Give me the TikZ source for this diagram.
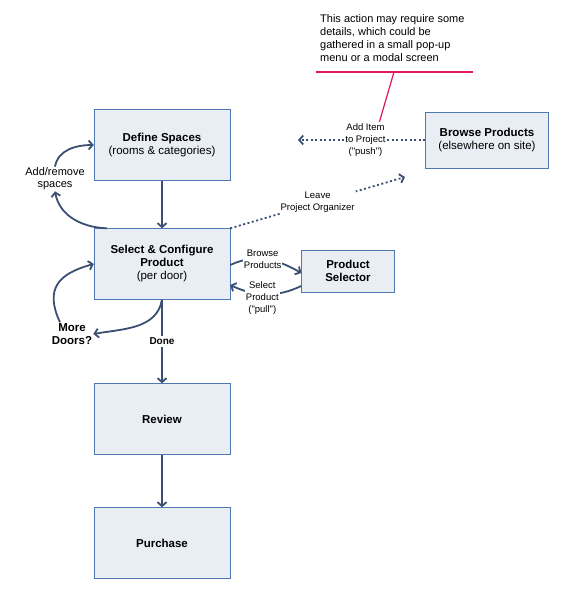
\documentclass[tikz,border=0pt]{standalone}
\usepackage{fontspec}
\setmainfont{Liberation Sans}
\usetikzlibrary{arrows.meta}

\definecolor{boxfill}{HTML}{E9EEF5}
\definecolor{boxline}{HTML}{5079B3}
\definecolor{flowcol}{HTML}{3A4F72}
\definecolor{notered}{HTML}{E0195A}

\begin{document}
\begin{tikzpicture}
[
x=1pt, y=-1pt,
Step/.style={rectangle, draw=boxline, fill=boxfill, thin, minimum width=136pt, minimum height=71pt, align=center, font=\fontsize{11.5}{13}\selectfont},
SmallStep/.style={Step, minimum width=123pt, minimum height=56pt},
TinyStep/.style={Step, minimum width=93pt, minimum height=42pt},
Flow/.style={-{Straight Barb[length=4pt,width=9pt]}, line width=1.8pt, draw=flowcol},
DotFlow/.style={Flow, dash pattern=on 2pt off 2.5pt},
Label/.style={align=center, fill=white, inner sep=1pt, font=\fontsize{9.5}{12}\selectfont},
BoldLabel/.style={Label, font=\fontsize{11.5}{13}\selectfont\bfseries},
Note/.style={align=left, font=\fontsize{11}{13}\selectfont, inner sep=0pt},
NoteLine/.style={draw=notered, line width=1.2pt},
]

\useasboundingbox (0,0) rectangle (577,606);

% main column
\node[Step] (define) at (162,145) {\textbf{Define Spaces}\\(rooms \& categories)};
\node[Step] (select) at (162,264) {\textbf{Select \& Configure}\\\textbf{Product}\\(per door)};
\node[Step] (review) at (162,419) {\textbf{Review}};
\node[Step] (purchase) at (162,543) {\textbf{Purchase}};

% side boxes
\node[SmallStep] (browse) at (487,140) {\textbf{Browse Products}\\(elsewhere on site)};
\node[TinyStep] (selector) at (348,271) {\textbf{Product}\\\textbf{Selector}};

% loop labels
\node[Label, fill=none, font=\fontsize{11}{12}\selectfont] (addremove) at (55,179) {Add/remove\\spaces};
\node[BoldLabel, fill=none] (moredoors) at (72,334) {More\\Doors?};

\draw[Flow] (define) -- (select);
\draw[Flow] (select) -- node[BoldLabel, font=\fontsize{10}{12}\selectfont\bfseries, inner sep=2pt] {Done} (review);
\draw[Flow] (review) -- (purchase);

\draw[Flow] ([xshift=13pt]select.north west) to[out=178,in=-80] (addremove.south);
\draw[Flow] (addremove.north) to[out=80,in=180] (define.west);

\draw[Flow] (select.south) to[out=-100,in=10] (moredoors.east);
\draw[Flow] ([xshift=-12pt]moredoors.north) to[out=115,in=195,looseness=1.4] (select.west);

\draw[Flow] ([yshift=-1pt]select.east) to[out=25,in=150]
  node[Label, pos=0.45] {Browse\\Products} ([yshift=-2pt]selector.west);
\draw[Flow] ([yshift=-15pt]selector.west) to[out=205,in=-25]
  node[Label, pos=0.55, yshift=-4pt] {Select\\Product\\(\textquotedbl pull\textquotedbl)} ([yshift=-21pt]select.east);

% push / leave
\coordinate (pushend) at (298,140);
\coordinate (leaveend) at (405,177);
\draw[DotFlow] (browse.west) -- node[Label, pos=0.47] (additem) {Add Item\\to Project\\(\textquotedbl push\textquotedbl)} (pushend);
\draw[DotFlow] (select.north east) -- node[Label, pos=0.5] {Leave\\Project Organizer} (leaveend);

% note
\node[Note, anchor=north west] (note) at (320,14) {This action may require some\\details, which could be\\gathered in a small pop-up\\menu or a modal screen};
\coordinate (noteleft) at (316,72);
\coordinate (noteright) at (473,72);
\coordinate (notemid) at (394,72);
\draw[NoteLine] (noteleft) -- (noteright);
\draw[NoteLine] (notemid) -- ([xshift=14pt]additem.north);

\end{tikzpicture}
\end{document}
